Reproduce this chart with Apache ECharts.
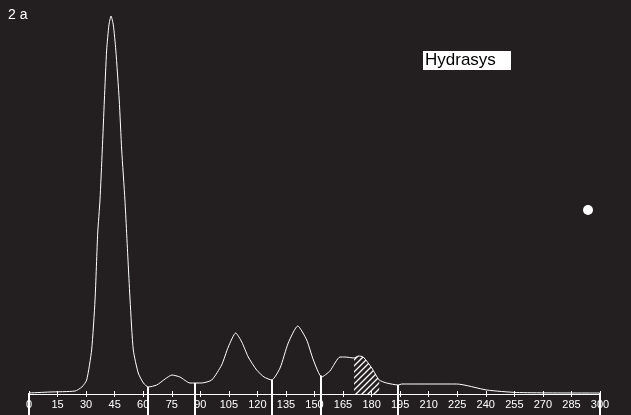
<!DOCTYPE html>
<html>
<head>
<meta charset="utf-8">
<script src="https://cdn.jsdelivr.net/npm/echarts@6/dist/echarts.min.js"></script>
<style>
html,body{margin:0;padding:0;background:#231f20;}
#c{width:631px;height:415px;}
</style>
</head>
<body>
<div id="c"></div>
<script>
// Densitometry trace (x: migration position, y: absorbance, arbitrary units)
const curveX = [0, 11.0, 24.2, 27.8, 30.3, 32.9, 34.7, 36.1, 37.3, 38.5, 39.6, 40.8, 42.0, 43.1, 44.3, 45.6, 47.4, 48.7, 50.4, 52.2, 53.1, 54.8, 57.4, 60.1, 62.7, 67.1, 71.5, 75.1, 79.3, 84.6, 90.7, 96.0, 101.2, 104.7, 108.6, 111.8, 115.2, 119.6, 123.5, 127.5, 131.9, 136.2, 141.2, 145.9, 149.4, 153.8, 158.1, 163.4, 166.0, 170.8, 173.0, 175.6, 180.1, 184.0, 187.9, 194.0, 195.8, 224.7, 240.5, 256.2, 293.7, 300];
const curveY = [1, 2, 3, 7, 14, 44, 94, 161, 194, 244, 294, 344, 369, 378, 369, 344, 294, 244, 194, 127, 94, 44, 21, 11, 7, 9, 15, 19, 17, 11, 11, 14, 29, 47, 61, 52, 37, 24, 17, 14, 26, 51, 68, 54, 34, 17, 23, 37, 37, 36, 38, 37, 26, 14, 11, 9, 10, 10, 4, 1.5, 1, 1];
const dividerX = [0, 62.5, 87.2, 127.7, 153.4, 193.9, 300];
const hatchStart = 170.8;
const hatchEnd = 184.0;
const dotPoint = [293.7, 184];
const tickValues = [0, 15, 30, 45, 60, 75, 90, 105, 120, 135, 150, 165, 180, 195, 210, 225, 240, 255, 270, 285, 300];
const titleText = '2 a';
const legendText = 'Hydrasys';

const curveData = curveX.map((x, i) => [x, curveY[i]]);
const hatchData = curveData.filter(p => p[0] >= hatchStart && p[0] <= hatchEnd);

function curveAt(x) {
  for (let i = 0; i < curveX.length - 1; i++) {
    if (x >= curveX[i] && x <= curveX[i + 1]) {
      const t = (x - curveX[i]) / (curveX[i + 1] - curveX[i] || 1);
      return curveY[i] + t * (curveY[i + 1] - curveY[i]);
    }
  }
  return curveY[curveY.length - 1];
}

// hatch pattern
const pat = document.createElement('canvas');
pat.width = 6; pat.height = 6;
const g = pat.getContext('2d');
g.fillStyle = '#231f20'; g.fillRect(0, 0, 6, 6);
g.strokeStyle = '#ffffff'; g.lineWidth = 1.3;
g.beginPath();
g.moveTo(0, 6); g.lineTo(6, 0);
g.moveTo(-1, 1); g.lineTo(1, -1);
g.moveTo(5, 7); g.lineTo(7, 5);
g.stroke();

const chart = echarts.init(document.getElementById('c'));
chart.setOption({
  backgroundColor: '#231f20',
  animation: false,
  grid: { left: 29, right: 31, top: 14, bottom: 0, containLabel: false, outerBoundsMode: 'none' },
  xAxis: {
    type: 'value', min: 0, max: 300, interval: 15, position: 'bottom', offset: -21,
    axisLine: { onZero: false, lineStyle: { color: '#ffffff', width: 1 } },
    axisTick: { show: true, length: 3, lineStyle: { color: '#ffffff' } },
    axisLabel: { color: '#ffffff', fontSize: 11, fontFamily: 'Liberation Sans, Arial, sans-serif', margin: 5 },
    splitLine: { show: false }
  },
  yAxis: { type: 'value', min: -21, max: 380, show: false, splitLine: { show: false } },
  graphic: [
    { type: 'text', left: 8, top: 8, style: { text: titleText, fill: '#ffffff', fontSize: 14, fontFamily: 'Liberation Sans, Arial, sans-serif' } },
    { type: 'rect', left: 423, top: 51, shape: { width: 88, height: 19 }, style: { fill: '#ffffff' } },
    { type: 'text', left: 425, top: 52, style: { text: legendText, fill: '#000000', fontSize: 17, fontFamily: 'Liberation Sans, Arial, sans-serif' } }
  ],
  series: [
    {
      type: 'line', data: hatchData, smooth: 0.2, symbol: 'none',
      lineStyle: { width: 0 },
      areaStyle: { color: { image: pat, repeat: 'repeat' }, opacity: 1 },
      z: 1
    },
    {
      type: 'line', data: curveData, smooth: 0.2, symbol: 'none',
      lineStyle: { color: '#ffffff', width: 1 },
      z: 3,
      markLine: {
        symbol: 'none', silent: true, label: { show: false },
        lineStyle: { color: '#ffffff', width: 2, type: 'solid', opacity: 1 },
        data: dividerX.map(x => [{ coord: [x, curveAt(x)] }, { coord: [x, -21] }])
      }
    },
    {
      type: 'line', data: [], symbol: 'none',
      markLine: {
        symbol: 'none', silent: true, label: { show: false },
        lineStyle: { color: '#ffffff', width: 1, type: 'solid', opacity: 1 },
        data: tickValues.map(v => [{ coord: [v, 0] }, { coord: [v, 3] }])
      }
    },
    {
      type: 'scatter', data: [dotPoint], symbolSize: 10,
      itemStyle: { color: '#ffffff', opacity: 1 }, z: 4
    }
  ]
});
</script>
</body>
</html>
